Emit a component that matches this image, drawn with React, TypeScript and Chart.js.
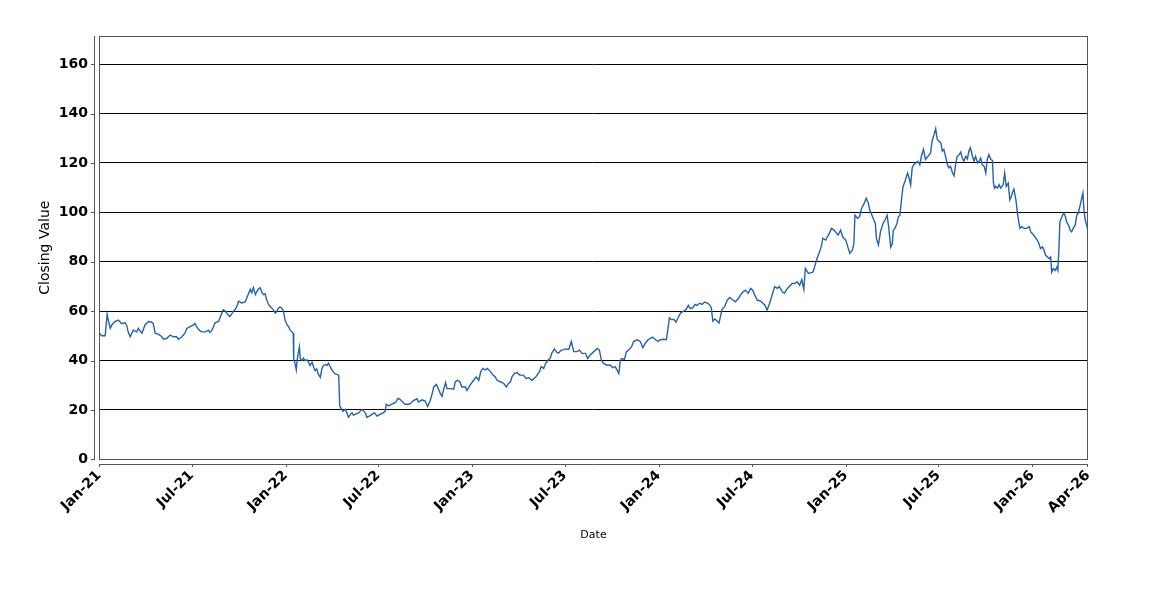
import { useEffect, useRef } from "react";
import { Chart, registerables } from "chart.js";

Chart.register(...registerables);

// ---- data (calendar days since START_DATE, closing value) ----
const START_DATE = "2021-01-01";
const END_DATE = "2026-04-20";

const dayOffsets = [
  2, 5, 12, 16, 18, 22, 25, 31, 38, 44, 51, 54, 57, 61, 67, 74, 77, 84, 90, 97,
  103, 106, 110, 116, 123, 126, 133, 139, 146, 152, 155, 162, 168, 172, 178, 185, 188, 191, 196, 201,
  208, 214, 217, 221, 224, 227, 234, 239, 243, 247, 252, 256, 260, 263, 266, 270, 273, 279, 286, 289,
  296, 299, 302, 306, 309, 312, 315,
  319, 322, 325, 328, 332, 335, 338, 341, 345, 348, 351, 354, 358, 361, 364, 368, 371, 374, 377, 380,
  381, 383, 386, 388, 392, 394, 397, 400, 403, 407, 410, 413, 417, 420, 423, 426, 429, 433, 436, 439,
  443, 446, 449, 452, 456, 459, 462, 467, 469, 471, 473, 477, 482, 485, 488, 492, 495, 498, 503, 508,
  514, 518, 521, 524, 529, 534, 539, 544, 550, 556, 560, 562, 567, 573, 580, 585, 589, 595, 599, 606,
  609, 615, 622, 625, 632, 638, 643, 648, 651, 655, 660, 664, 668, 671, 674, 678, 681, 687, 694, 697,
  702, 706, 710, 717, 720, 726, 733, 738, 743, 747, 751, 756, 760, 766, 771, 775, 779, 785, 792, 797,
  801, 805, 808, 813, 818, 823, 830, 836, 841, 847, 854, 858, 862, 865, 870, 874, 878, 883, 886, 891,
  896, 899, 904, 909, 912,
  919, 924, 929, 935, 940, 945, 952, 956, 961, 968, 975, 979, 983, 987, 994, 1001, 1005, 1010, 1014, 1017,
  1020, 1023, 1028, 1032, 1036, 1042, 1046, 1053, 1059, 1064, 1069, 1074, 1079, 1083, 1089, 1094, 1098, 1105, 1110, 1113,
  1116, 1120, 1125, 1129, 1133, 1138, 1144, 1149, 1153, 1157, 1162, 1166, 1170, 1175, 1180, 1185, 1190, 1194, 1198, 1201,
  1205, 1210, 1213, 1216, 1219, 1224,
  1229, 1234, 1239, 1245, 1251, 1255, 1260, 1265, 1270, 1275, 1279, 1283, 1288, 1293, 1298, 1303, 1307, 1312, 1317, 1322,
  1327, 1331, 1337, 1341, 1347, 1351, 1356, 1361, 1366, 1371, 1375, 1379, 1382, 1388, 1392, 1397, 1402, 1405, 1410, 1414,
  1416, 1422, 1425, 1429, 1433, 1438, 1442, 1446, 1451, 1455, 1461, 1466, 1469, 1474, 1477, 1479, 1484, 1488, 1492, 1497,
  1501, 1505, 1508, 1512, 1516, 1519, 1521, 1525, 1529, 1534, 1538,
  1542, 1545, 1549, 1552, 1554, 1557, 1561, 1564, 1567, 1570, 1573, 1578, 1582, 1585, 1588, 1591, 1594, 1598, 1602, 1606,
  1609, 1613, 1617, 1622, 1627, 1630, 1634, 1637, 1640, 1643, 1647, 1650, 1653, 1657, 1660, 1663, 1666, 1670, 1673, 1676,
  1679, 1683, 1686, 1689, 1692, 1696, 1699, 1702, 1705, 1709, 1712, 1715, 1719, 1722, 1725, 1728, 1732, 1735, 1738, 1741,
  1745, 1748, 1750, 1752,
  1754, 1758, 1761, 1764, 1769, 1772, 1775, 1779, 1782, 1785, 1787, 1790, 1794, 1797, 1800, 1802, 1805, 1810, 1815, 1820,
  1823, 1826, 1831, 1836, 1839, 1842, 1846, 1849, 1852, 1856, 1859, 1862, 1864, 1867, 1871, 1874, 1876, 1878, 1880, 1884,
  1887, 1890, 1893, 1897, 1900, 1903, 1906, 1910, 1913, 1916, 1919, 1922, 1925, 1927, 1929, 1935,
];

const closes = [
  51, 50, 50, 58.8, 56.5, 53, 54.4, 55.8, 56.4, 55, 55.3, 54.4, 51.6, 49.6, 52.3, 51.6, 53, 51, 54.4, 55.8,
  55.5, 55, 51, 50.7, 49.6, 48.6, 49, 50.3, 49.6, 49.6, 48.6, 49.6, 51, 53, 53.7, 54.4, 55, 53.7, 52.3, 51.6,
  51.6, 52.3, 51.4, 52.3, 53.7, 55.3, 55.8, 58.5, 60.5, 60, 58.5, 57.8, 59, 60, 60.5, 62, 64, 63.3, 63.7, 65.3,
  68.8, 67.4, 69.5, 66.7, 68, 69, 69.5,
  67.4, 66.7, 67, 64.6, 62.6, 61.9, 61.2, 60.5, 59.2, 59.9, 61.2, 61.6, 61.2, 59.9, 56.4, 54.4, 53.7, 52.3, 51.7, 51,
  40, 39.3, 36.2, 40.7, 45.5, 40.7, 40, 41, 40, 40.3, 39.3, 38, 39.3, 37.3, 35.9, 36.6, 34.6, 33.2, 36.6, 38,
  38.4, 38, 38.9, 37.6, 36, 35.3, 34.6, 34.3, 33.9, 21.6, 20.9, 19.5, 20.2, 18.8, 17, 18.2, 18.8, 17.9, 18.4, 18.8,
  20.2, 19.5, 18.8, 17, 17.5, 18.2, 18.8, 17.5, 18.2, 18.8, 19.5, 22.3, 21.6, 22.3, 23, 24.7, 24.3, 23, 22.3, 22.3,
  22.5, 23.8, 24.5, 23.2, 24.1, 23.6, 21.4, 23.8, 25.9, 29.3, 30.3, 28.6, 26.6, 25.5, 27.9, 31.1, 28.6, 28.6, 28.4, 31.4,
  32, 31.4, 29.3, 29.3, 27.9, 30, 32, 33.4, 32, 35.5, 36.8, 36.2, 36.8, 35.5, 34.1, 33.4, 32, 31.4, 30.7, 29.3,
  30.7, 31.4, 33.4, 34.8, 35.1, 34.1, 34.1, 32.7, 33, 32, 33.2, 34.4, 35.5, 37.5, 36.8, 38.9, 40, 41, 43, 44.7,
  43.3, 43, 44.1, 44.4, 44.7,
  44.5, 47.7, 43.6, 43.6, 44.2, 42.9, 42.9, 40.8, 42.2, 43.6, 44.9, 44.2, 40.1, 38.8, 38.1, 38.1, 37.1, 37.4, 36, 34.7,
  40.1, 40.8, 40.4, 43.6, 44.2, 45.6, 47.7, 48.4, 47.7, 45.2, 47, 48.4, 49, 49.5, 48.4, 47.7, 48.4, 48.6, 48.4, 52.5,
  57.3, 56.6, 56.6, 55.5, 57.3, 59.3, 60, 60.7, 62.3, 61, 61.4, 62.7, 62.3, 63.2, 62.7, 63.7, 63.2, 62.7, 61.4, 55.9,
  56.8, 55.9, 55.2, 57.9, 60.7, 61.8,
  64.4, 65.5, 64.7, 63.8, 65.1, 66.5, 67.8, 68.5, 67.2, 69.2, 68.5, 66.5, 64.4, 64.2, 63.4, 62.4, 60.4, 63.1, 66.5, 69.9,
  69.2, 69.9, 67.8, 67.2, 69.2, 70.1, 71.2, 71.2, 71.9, 70.5, 72.8, 68.8, 77.3, 75.3, 75.5, 75.9, 79.3, 81.4, 84.1, 86.8,
  89.5, 88.8, 90.1, 91.5, 93.5, 92.8, 91.8, 90.8, 92.8, 90.1, 88.8, 85.4, 83.4, 84.7, 87.4, 98.9, 97.6, 98.2, 101.6, 103.6,
  105.7, 103.9, 100.9, 98.9, 96.9, 95.5, 89.5, 86.8, 92.2, 95.5, 96.9,
  98.8, 94.1, 85.9, 87.2, 92.7, 93.4, 95.4, 98.2, 98.8, 105, 110.4, 113.2, 115.9, 113.9, 111.1, 118, 119.3, 120, 120.7, 119.3,
  122.7, 125.5, 121.4, 122.7, 124.1, 128.9, 131.6, 133.9, 129.6, 128.9, 128.2, 124.8, 125.5, 122, 119.3, 118, 118.6, 115.9, 114.8, 119.3,
  122.7, 123.4, 124.4, 122, 120.7, 122.7, 121.6, 124.8, 126.1, 122.7, 120.7, 122.7, 120, 120.7, 122, 119.3, 118.6, 115.9, 121.4, 123.4,
  121.4, 121, 112, 109.8,
  110.5, 109.8, 111.2, 109.8, 111.2, 115.9, 110.5, 111.8, 105, 106.4, 107.8, 109.4, 105, 99.6, 95.5, 93.5, 94.2, 93.5, 93.5, 94.2,
  92.1, 91.4, 90.1, 88.7, 87.4, 85.3, 86, 84.6, 82.6, 81.9, 81.2, 81.9, 75.8, 77.2, 76.5, 77.8, 76.5, 84.6, 96.2, 98.2,
  99.6, 98.9, 96.2, 94.8, 92.8, 92.1, 93.5, 94.8, 98.9, 99.6, 102.3, 105, 107.8, 101, 97.6, 92.5,
];

const tickDates = [
  "2021-01-01", "2021-07-01", "2022-01-01", "2022-07-01", "2023-01-01", "2023-07-01",
  "2024-01-01", "2024-07-01", "2025-01-01", "2025-07-01", "2026-01-01", END_DATE,
];
const tickLabels = [
  "Jan-21", "Jul-21", "Jan-22", "Jul-22", "Jan-23", "Jul-23",
  "Jan-24", "Jul-24", "Jan-25", "Jul-25", "Jan-26", "Apr-26",
];
const yTicks = [0, 20, 40, 60, 80, 100, 120, 140, 160];
const Y_MAX = 171.4;

const FONT = "'DejaVu Sans', 'Liberation Sans', sans-serif";

function daysSince(iso: string): number {
  return Math.round((Date.parse(iso) - Date.parse(START_DATE)) / 86400000);
}

const offsetAxesPlugin = {
  id: "offsetAxes",
  afterDraw(chart: any) {
    const { ctx, chartArea: a, scales } = chart;
    const L = Math.round(a.left);
    const R = Math.round(a.right);
    const T = Math.round(a.top);
    const B = Math.round(a.bottom);
    ctx.save();
    ctx.lineWidth = 1;
    ctx.strokeStyle = "#555555";
    // plot frame
    ctx.strokeRect(L + 0.5, T + 0.5, R - L - 1, B - T);
    // y axis line (offset)
    ctx.beginPath();
    ctx.moveTo(L - 4.5, T);
    ctx.lineTo(L - 4.5, B + 1);
    // y tick marks
    for (const t of scales.y.ticks) {
      const y = Math.round(scales.y.getPixelForValue(t.value)) + 0.5;
      ctx.moveTo(L - 8, y);
      ctx.lineTo(L - 4, y);
    }
    // x axis line (offset)
    ctx.moveTo(L, B + 5.5);
    ctx.lineTo(R, B + 5.5);
    for (const t of scales.x.ticks) {
      const x = Math.min(Math.round(scales.x.getPixelForValue(t.value)), R - 1) + 0.5;
      ctx.moveTo(x, B + 5);
      ctx.lineTo(x, B + 8);
    }
    ctx.stroke();
    ctx.restore();
  },
};

export default function App() {
  const canvasRef = useRef<HTMLCanvasElement | null>(null);

  useEffect(() => {
    document.body.style.margin = "0";
    const canvas = canvasRef.current;
    if (!canvas) return;
    const points = dayOffsets.map((d, i) => ({ x: d, y: closes[i] }));
    const xMax = daysSince(END_DATE);

    const chart = new Chart(canvas, {
      type: "line",
      data: {
        datasets: [
          {
            label: "Closing Value",
            data: points,
            borderColor: "rgb(36, 98, 176)",
            borderWidth: 1.4,
            pointRadius: 0,
            tension: 0,
            fill: false,
          },
        ],
      },
      options: {
        responsive: false,
        animation: false,
        devicePixelRatio: 1,
        layout: { padding: { top: 36, right: 62, left: 0, bottom: 0 } },
        plugins: { legend: { display: false }, tooltip: { enabled: false } },
        scales: {
          x: {
            type: "linear",
            min: 0,
            max: xMax,
            grid: { display: false, drawTicks: false },
            border: { display: false },
            afterBuildTicks: (s: any) => {
              s.ticks = tickDates.map((d) => ({ value: daysSince(d) }));
            },
            afterFit: (s: any) => {
              s.height = 140.7;
            },
            ticks: {
              autoSkip: false,
              minRotation: 45,
              maxRotation: 45,
              padding: 8,
              color: "#000",
              font: { family: FONT, size: 14, weight: "bold" },
              callback: (_v: any, i: number) => tickLabels[i],
            },
            title: {
              display: true,
              text: "Date",
              color: "#000",
              font: { family: FONT, size: 11 },
              padding: { top: 0, bottom: 58 },
            },
          },
          y: {
            min: 0,
            max: Y_MAX,
            afterBuildTicks: (s: any) => {
              s.ticks = yTicks.map((v) => ({ value: v }));
            },
            afterFit: (s: any) => {
              s.width = 99;
            },
            grid: { color: "#000", lineWidth: 1, drawTicks: false },
            border: { display: false },
            ticks: {
              padding: 11,
              color: "#000",
              font: { family: FONT, size: 14, weight: "bold" },
            },
            title: {
              display: true,
              text: "Closing Value",
              color: "#000",
              font: { family: FONT, size: 14 },
              padding: { top: 36.6, bottom: 0 },
            },
          },
        },
      },
      plugins: [offsetAxesPlugin],
    });
    return () => chart.destroy();
  }, []);

  return (
    <div style={{ width: 1150, height: 600, background: "#fff" }}>
      <canvas ref={canvasRef} width={1150} height={600} />
    </div>
  );
}
